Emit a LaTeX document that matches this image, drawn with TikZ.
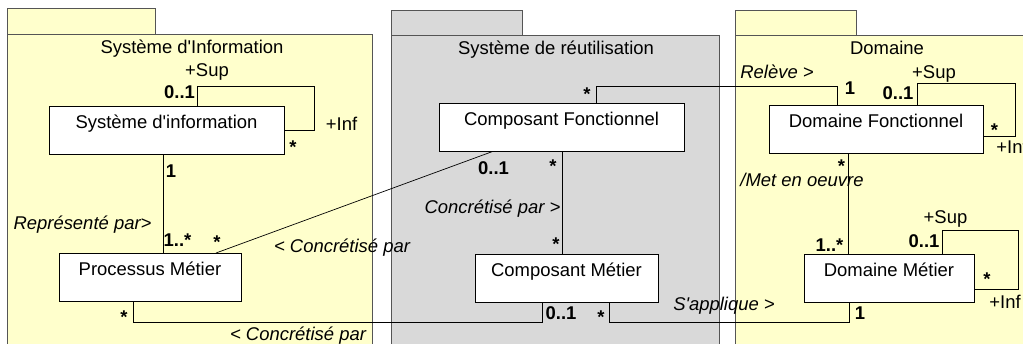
\documentclass[tikz,border=0pt]{standalone}
\usepackage{fontspec}
\setmainfont{Liberation Sans}
\usepackage{tikz}

\definecolor{pkgyellow}{RGB}{255,255,204}
\definecolor{pkggray}{RGB}{217,217,217}
\definecolor{pkgline}{RGB}{85,85,85}

\begin{document}
\begin{tikzpicture}[scale=0.2]
\tikzstyle{every node}+=[inner sep=0pt, font=\fontsize{10.5}{12}\selectfont]
\tikzstyle{cls}=[draw=black, fill=white, anchor=north, text height=0.45cm, text depth=0.51cm]
\tikzstyle{mult}=[anchor=base, font=\fontsize{10.5}{12}\selectfont\bfseries]
\tikzstyle{role}=[anchor=base]
\tikzstyle{assoc}=[anchor=base, font=\fontsize{10.5}{12}\selectfont\itshape]
\useasboundingbox (0,0) rectangle (102.3,-34.4);
% packages
\draw [pkgline, fill=pkgyellow] (0.73,-0.83) rectangle (15.5,-3.4);
\draw [pkgline, fill=pkgyellow] (0.73,-3.4) rectangle (37.23,-36);
\draw (19.2,-5.4) node [role] {Système d\textquotesingle Information};
\draw [pkgline, fill=pkggray] (39.1,-1.0) rectangle (52.23,-3.5);
\draw [pkgline, fill=pkggray] (39.1,-3.5) rectangle (71.9,-36);
\draw (55.6,-5.5) node [role] {Système de réutilisation};
\draw [pkgline, fill=pkgyellow] (73.5,-1.0) rectangle (85.67,-3.5);
\draw [pkgline, fill=pkgyellow] (73.5,-3.5) rectangle (106,-36);
\draw (88.7,-5.5) node [role] {Domaine};
% classes
\node [cls, minimum width=4.7cm] (si) at (16.65,-10.6) {Système d\textquotesingle information};
\node [cls, minimum width=3.64cm] (pm) at (15.0,-25.3) {Processus Métier};
\node [cls, minimum width=4.9cm] (cf) at (56.15,-10.3) {Composant Fonctionnel};
\node [cls, minimum width=3.66cm] (cm) at (56.65,-25.4) {Composant Métier};
\node [cls, minimum width=4.28cm] (df) at (87.6,-10.5) {Domaine Fonctionnel};
\node [cls, minimum width=3.4cm] (dm) at (88.9,-25.4) {Domaine Métier};
% Systeme d'information
\draw (si.north -| 19.7,0) |- (31.4,-8.6) |- (si.east |- 0,-13.0);
\draw (20.7,-7.6) node [role] {+Sup};
\draw (17.95,-9.9) node [mult] {0..1};
\draw (34.15,-13.05) node [role] {+Inf};
\draw (29.3,-15.35) node [mult] {*};
\draw (si.south -| 16.3,0) -- (pm.north -| 16.3,0);
\draw (17.1,-17.7) node [mult] {1};
\draw (8.25,-22.9) node [assoc] {Représenté par>};
\draw (17.75,-24.6) node [mult] {1..*};
% Processus Metier
\draw (pm.north -| 21.6,0) -- (cf.south -| 49.2,0);
\draw (21.7,-24.8) node [mult] {*};
\draw (34.2,-25.25) node [assoc] {< Concrétisé par};
\draw (49.35,-17.5) node [mult] {0..1};
\draw (pm.south -| 13.3,0) |- (54.2,-32.2) -- (cm.south -| 54.2,0);
\draw (12.4,-32.3) node [mult] {*};
\draw (29.8,-34.05) node [assoc] {< Concrétisé par};
\draw (56.1,-31.9) node [mult] {0..1};
% Composant
\draw (cf.south -| 56.2,0) -- (cm.north -| 56.2,0);
\draw (55.3,-17.25) node [mult] {*};
\draw (49.25,-21.4) node [assoc] {Concrétisé par >};
\draw (55.6,-25.0) node [mult] {*};
\draw (cm.south -| 60.9,0) |- (84.9,-32.2) -- (dm.south -| 84.9,0);
\draw (60.1,-32.3) node [mult] {*};
\draw (72.4,-31.0) node [assoc] {S\textquotesingle applique >};
\draw (86.0,-31.9) node [mult] {1};
\draw (cf.north -| 59.6,0) |- (83.7,-8.6) -- (df.north -| 83.7,0);
\draw (58.7,-10.05) node [mult] {*};
\draw (77.7,-7.85) node [assoc] {Relève >};
\draw (85.0,-9.5) node [mult] {1};
% Domaine
\draw (df.north -| 91.7,0) |- (101.5,-8.3) |- (df.east |- 0,-13.6);
\draw (93.4,-7.85) node [role] {+Sup};
\draw (89.8,-10.0) node [mult] {0..1};
\draw (99.45,-13.7) node [mult] {*};
\draw (99.6,-15.35) node [role, anchor=base west] {+Inf};
\draw (df.south -| 84.8,0) -- (dm.north -| 84.8,0);
\draw (84.15,-17.3) node [mult] {*};
\draw (80.2,-18.6) node [assoc] {/Met en oeuvre};
\draw (82.95,-25.15) node [mult] {1..*};
\draw (dm.north -| 94.2,0) |- (101.8,-23.0) |- (dm.east |- 0,-28.9);
\draw (94.55,-22.35) node [role] {+Sup};
\draw (92.4,-24.75) node [mult] {0..1};
\draw (98.7,-28.55) node [mult] {*};
\draw (100.5,-30.8) node [role] {+Inf};
\end{tikzpicture}
\end{document}
